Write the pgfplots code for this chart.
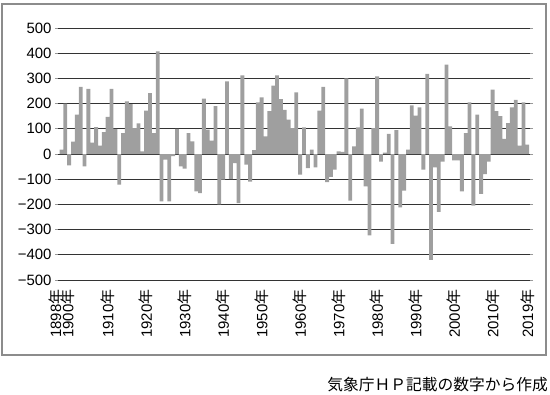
\documentclass[border=0pt]{standalone}
\usepackage{fontspec}
\setmainfont{Liberation Sans}
\newfontfamily\cjk{Noto Sans CJK JP}
\usepackage{pgfplots}
\pgfplotsset{compat=1.18}
\newcommand{\nen}{{\cjk 年}}
\begin{document}
\begin{tikzpicture}[x=1bp,y=1bp]
\useasboundingbox (-58,-114) rectangle (492,280);
\draw[black!45, line width=1.5bp] (-56,276) rectangle (488,-75);
\begin{axis}[
  at={(0,0)}, anchor=south west,
  scale only axis, width=472bp, height=252bp,
  xmin=1897.1, xmax=2019.7, ymin=-500, ymax=500,
  axis line style={draw=none},
  ybar, bar width=1,
  ytick={-500,-400,...,500},
  yticklabels={−500,−400,−300,−200,−100,0,100,200,300,400,500},
  ymajorgrids, grid style={black!80, line width=1bp},
  xtick={1898,1900,1910,1920,1930,1940,1950,1960,1970,1980,1990,2000,2010,2019},
  xticklabels={\raisebox{6bp}[\height][\depth]{1898\nen},\raisebox{1.5bp}[\height][\depth]{1900\nen},1910\nen,1920\nen,1930\nen,1940\nen,1950\nen,1960\nen,1970\nen,1980\nen,1990\nen,2000\nen,2010\nen,2019\nen},
  x tick label style={rotate=90, anchor=east, xshift=-3bp},
  xtick style={draw=none},
  ytick style={black!40, line width=0.8bp},
  tick align=outside, major tick length=3bp,
  tick label style={font=\fontsize{15}{15}\selectfont},
]
\addplot[fill=gray!75, draw=none] table {
x y
1898 17
1899 200
1900 -45
1901 49
1902 156
1903 266
1904 -49
1905 258
1906 45
1907 107
1908 33
1909 87
1910 147
1911 258
1912 100
1913 -122
1914 83
1915 209
1916 198
1917 103
1918 122
1919 10
1920 172
1921 242
1922 83
1923 407
1924 -188
1925 -22
1926 -188
1927 -8
1928 100
1929 -49
1930 -58
1931 83
1932 50
1933 -148
1934 -155
1935 220
1936 97
1937 53
1938 190
1939 -200
1940 -102
1941 288
1942 -100
1943 -36
1944 -195
1945 312
1946 -42
1947 -110
1948 15
1949 205
1950 225
1951 70
1952 170
1953 271
1954 312
1955 218
1956 175
1957 136
1958 103
1959 245
1960 -82
1961 106
1962 -56
1963 17
1964 -53
1965 172
1966 266
1967 -112
1968 -91
1969 -62
1970 10
1971 8
1972 300
1973 -185
1974 30
1975 106
1976 180
1977 -128
1978 -323
1979 103
1980 308
1981 -30
1982 5
1983 80
1984 -357
1985 95
1986 -212
1987 -145
1988 17
1989 193
1990 152
1991 185
1992 -62
1993 318
1994 -420
1995 -53
1996 -230
1997 -30
1998 355
1999 110
2000 -25
2001 -25
2002 -148
2003 83
2004 205
2005 -205
2006 156
2007 -158
2008 -80
2009 -30
2010 255
2011 170
2012 150
2013 60
2014 123
2015 185
2016 215
2017 33
2018 205
2019 37
};
\end{axis}
\node[anchor=base east, inner sep=0pt, font=\cjk\fontsize{15.8}{15.8}\selectfont] at (490,-110) {気象庁ＨＰ記載の数字から作成};
\end{tikzpicture}
\end{document}
